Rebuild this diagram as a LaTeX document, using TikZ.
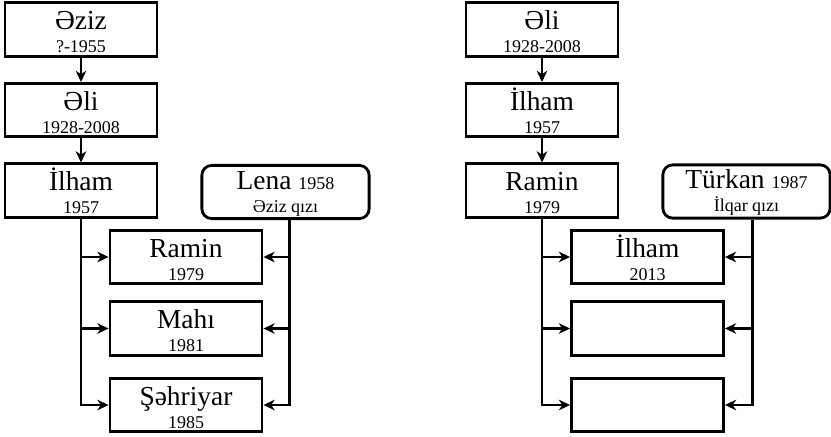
\documentclass[tikz,border=0pt]{standalone}
\usepackage{fontspec}
\setmainfont{Liberation Serif}
\usetikzlibrary{positioning, arrows.meta}

\newcommand\bigname{\fontsize{19.5}{19.5}\selectfont}
\newcommand\smallyear{\fontsize{12.8}{12.8}\selectfont}
\newcommand\who[2]{\vtop{\baselineskip=16.5pt\lineskiplimit=-100pt\lineskip=0pt
  \hbox to 0pt{\hss\bigname #1\hss}\hbox to 0pt{\hss\smallyear #2\hss}}}

\tikzset{
  person/.style={draw, line width=2pt, minimum width=3.8cm, minimum height=1.33cm,
    inner sep=0pt, text height=0pt, text depth=0pt},
  spouse/.style={person, rounded corners=7pt, minimum width=4.18cm, text depth=4.2pt},
  link/.style={line width=2pt, -{Stealth[length=8pt,width=7.5pt,inset=2.5pt]}}
}

\begin{document}
\begin{tikzpicture}[x=0.025cm,y=-0.025cm]

 \useasboundingbox (0,0) rectangle (831,436);

 % left tree
 \node[person] (aziz) at (81,29.5) {\who{Əziz}{?-1955}};
 \node[person] (ali) at (81,110) {\who{Əli}{1928-2008}};
 \node[person] (ilham) at (81,190.5) {\who{İlham}{1957}};
 \node[spouse] (lena) at (285.5,192) {\who{Lena {\smallyear 1958}}{Əziz qızı}};
 \coordinate (lenaleg) at ([xshift=0.11cm]lena.south);

 \node[person] (ramin) at (186,257) {\who{Ramin}{1979}};
 \node[person] (mahi) at (186,328.5) {\who{Mahı}{1981}};
 \node[person] (sehriyar) at (186,405) {\who{Şəhriyar}{1985}};

 \draw[link] (aziz) -- (ali);
 \draw[link] (ali) -- (ilham);

 \draw[link] (ilham.south) |- (sehriyar.west);
 \draw[link] (ilham.south |- ramin.west) -- (ramin.west);
 \draw[link] (ilham.south |- mahi.west) -- (mahi.west);

 \draw[link] (lenaleg) |- (sehriyar.east);
 \draw[link] (lenaleg |- ramin.east) -- (ramin.east);
 \draw[link] (lenaleg |- mahi.east) -- (mahi.east);

 % right tree
 \node[person] (ali2) at (542,29.5) {\who{Əli}{1928-2008}};
 \node[person] (ilham2) at (542,110) {\who{İlham}{1957}};
 \node[person] (ramin2) at (542,190.5) {\who{Ramin}{1979}};
 \node[spouse] (turkan) at (746.5,191.5) {\who{Türkan {\smallyear 1987}}{İlqar qızı}};
 \coordinate (turkanleg) at ([xshift=0.14cm]turkan.south);

 \node[person] (kid1) at (647.5,257) {\who{İlham}{2013}};
 \node[person] (kid2) at (647.5,328.5) {};
 \node[person] (kid3) at (647.5,405) {};

 \draw[link] (ali2) -- (ilham2);
 \draw[link] (ilham2) -- (ramin2);

 \draw[link] (ramin2.south) |- (kid3.west);
 \draw[link] (ramin2.south |- kid1.west) -- (kid1.west);
 \draw[link] (ramin2.south |- kid2.west) -- (kid2.west);

 \draw[link] (turkanleg) |- (kid3.east);
 \draw[link] (turkanleg |- kid1.east) -- (kid1.east);
 \draw[link] (turkanleg |- kid2.east) -- (kid2.east);

\end{tikzpicture}
\end{document}
